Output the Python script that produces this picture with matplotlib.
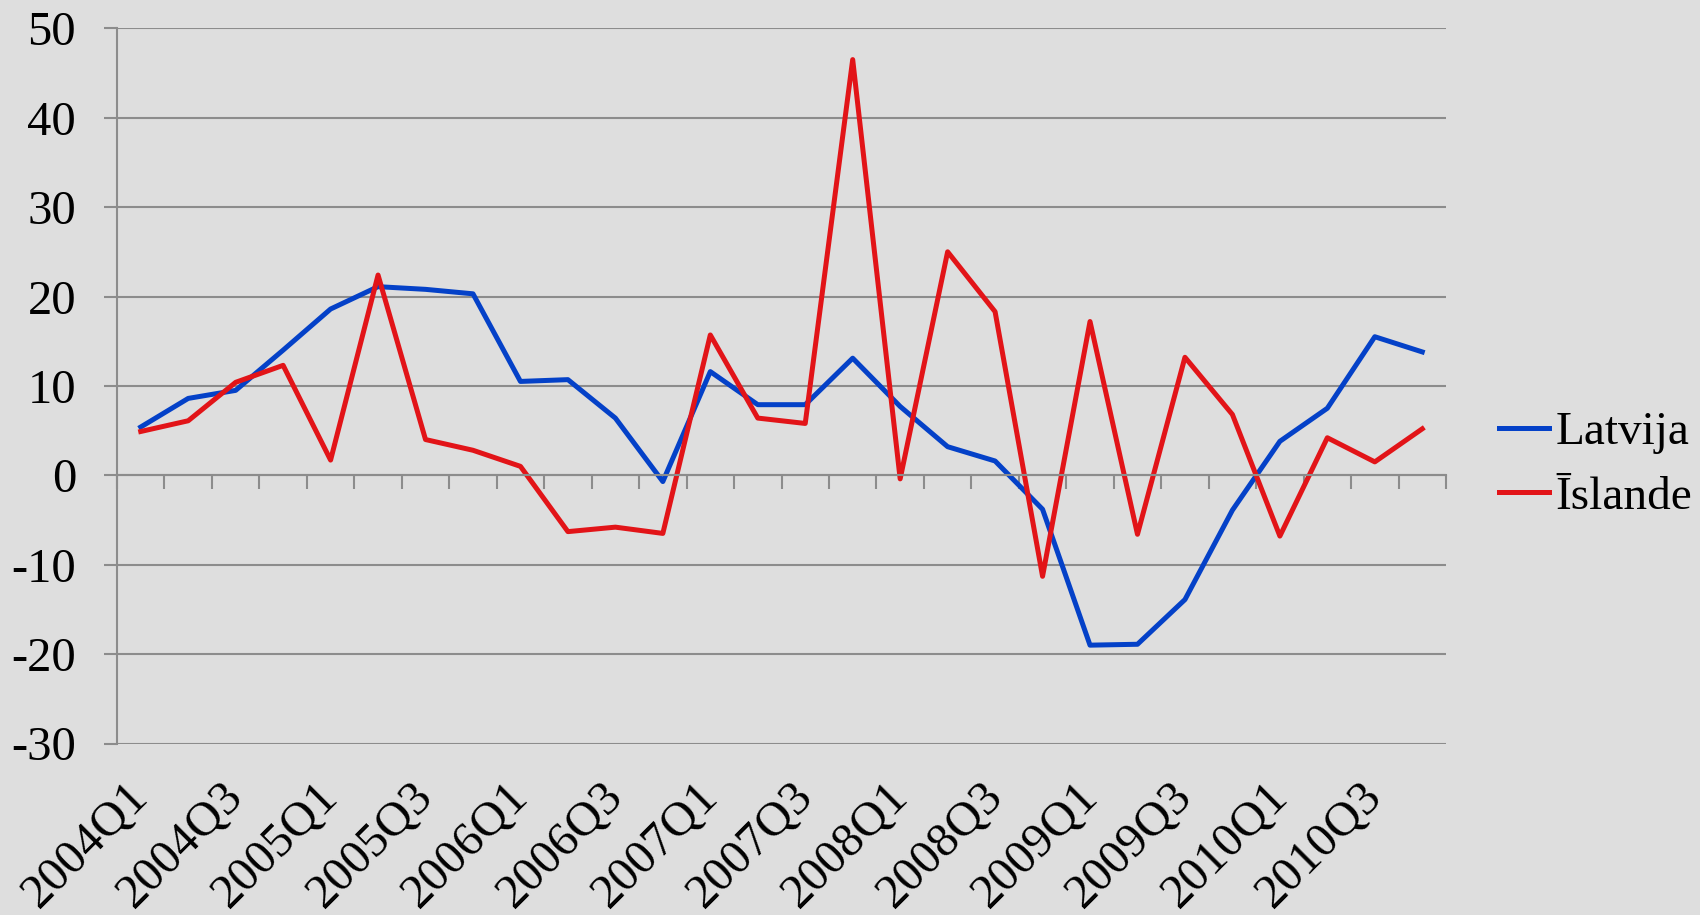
import numpy as np
import matplotlib
matplotlib.use('Agg')
import matplotlib.pyplot as plt
import matplotlib.transforms as mtransforms

# quarters 2004Q1 .. 2010Q4
quarters = ['%dQ%d' % (y, q) for y in range(2004, 2011) for q in range(1, 5)]

latvija = [5.4, 8.6, 9.5, 14.0, 18.6, 21.1, 20.8, 20.3, 10.5, 10.7, 6.4, -0.7,
           11.6, 7.9, 7.9, 13.1, 7.7, 3.2, 1.6, -3.8, -19.0, -18.9, -13.9, -3.9,
           3.8, 7.5, 15.5, 13.8]
islande = [4.9, 6.1, 10.4, 12.3, 1.7, 22.4, 4.0, 2.8, 1.0, -6.3, -5.8, -6.5,
           15.7, 6.4, 5.8, 46.5, -0.4, 25.0, 18.3, -11.3, 17.2, -6.6, 13.2, 6.8,
           -6.8, 4.2, 1.5, 5.2]

yticks = [-30, -20, -10, 0, 10, 20, 30, 40, 50]

bg = '#dedede'
gridc = '#8c8c8c'
blue = '#0441c8'
red = '#e21418'

plt.rcParams['font.family'] = ['Liberation Serif', 'DejaVu Serif']

fig = plt.figure(figsize=(17, 9.15), dpi=100, facecolor=bg)
ax = fig.add_axes([117/1700, 1-743.5/915, (1446-117)/1700, (743.5-28.3)/915])
ax.set_facecolor(bg)

x = np.arange(len(quarters))
ax.plot(x, latvija, color=blue, linewidth=3.6, label='Latvija')
ax.plot(x, islande, color=red, linewidth=3.6, label='Īslande')

ax.set_xlim(-0.5, len(quarters) - 0.5)
ax.set_ylim(-30, 50)
ax.set_yticks(yticks)
ax.set_yticklabels([str(v) for v in yticks])
ax.grid(axis='y', color=gridc, linewidth=1.5)
ax.set_axisbelow(True)

# y axis
for s in ['right', 'bottom']:
    ax.spines[s].set_visible(False)
ax.spines['left'].set_color(gridc)
ax.spines['left'].set_linewidth(1.5)
ax.tick_params(axis='y', direction='out', length=9.5, width=1.5, color=gridc,
               pad=20, labelsize=35)

# x axis line at zero with boundary ticks
ax.spines['top'].set_position(('data', 0))
ax.spines['top'].set_color(gridc)
ax.spines['top'].set_linewidth(1.5)
ax.set_xticks(np.arange(-0.5, len(quarters)), minor=True)
ax.set_xticks(x[::2])
ax.set_xticklabels(quarters[::2], rotation=45, ha='right', rotation_mode='anchor')
ax.tick_params(axis='x', which='major', bottom=True, top=False, length=0,
               pad=22, labelsize=35)
ax.tick_params(axis='x', which='minor', bottom=False, top=True, direction='in',
               length=10, width=1.5, color=gridc)
shift = mtransforms.ScaledTranslation(-0.15, 0, fig.dpi_scale_trans)
for lab in ax.get_xticklabels():
    lab.set_transform(lab.get_transform() + shift)

ax.legend(loc='center left', bbox_to_anchor=(1499/1700, 1-465/915),
          bbox_transform=fig.transFigure, frameon=False, fontsize=34,
          handlelength=1.05, handletextpad=0.15, labelspacing=0.45,
          borderpad=0, borderaxespad=0)

fig.savefig('out.png', dpi=100, facecolor=bg)
